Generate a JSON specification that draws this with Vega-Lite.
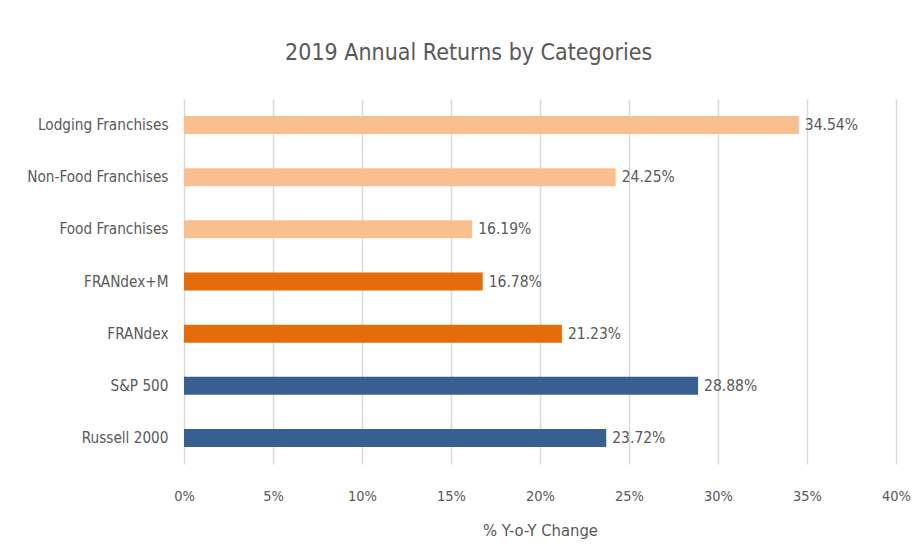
{
  "$schema": "https://vega.github.io/schema/vega-lite/v6.json",
  "width": 712,
  "height": 365,
  "autosize": "none",
  "padding": {"left": 184, "top": 99, "right": 17, "bottom": 83},
  "background": "white",
  "title": {
    "text": "2019 Annual Returns by Categories",
    "font": "DejaVu Sans Condensed, sans-serif",
    "fontSize": 23,
    "fontWeight": "normal",
    "color": "#595959",
    "anchor": "middle",
    "frame": "bounds",
    "offset": 34
  },
  "data": {
    "values": [
      {"category": "Lodging Franchises", "value": 0.3454, "group": "Franchise"},
      {"category": "Non-Food Franchises", "value": 0.2425, "group": "Franchise"},
      {"category": "Food Franchises", "value": 0.1619, "group": "Franchise"},
      {"category": "FRANdex+M", "value": 0.1678, "group": "FRANdex"},
      {"category": "FRANdex", "value": 0.2123, "group": "FRANdex"},
      {"category": "S&P 500", "value": 0.2888, "group": "Index"},
      {"category": "Russell 2000", "value": 0.2372, "group": "Index"}
    ]
  },
  "encoding": {
    "y": {
      "field": "category",
      "type": "nominal",
      "sort": null,
      "scale": {"paddingInner": 0.655, "paddingOuter": 0.3275},
      "axis": {
        "title": null,
        "domain": false,
        "ticks": false,
        "labelPadding": 16,
        "labelFont": "DejaVu Sans Condensed, sans-serif",
        "labelFontSize": 15.2,
        "labelColor": "#595959"
      }
    },
    "x": {
      "field": "value",
      "type": "quantitative",
      "scale": {"domain": [0, 0.4], "nice": false},
      "axis": {
        "title": "% Y-o-Y Change",
        "values": [0, 0.05, 0.1, 0.15, 0.2, 0.25, 0.3, 0.35, 0.4],
        "format": ".0%",
        "domain": false,
        "ticks": false,
        "grid": true,
        "gridColor": "#D9D9D9",
        "gridWidth": 1.5,
        "labelFlush": false,
        "labelPadding": 25,
        "labelFont": "DejaVu Sans Condensed, sans-serif",
        "labelFontSize": 14.5,
        "labelColor": "#595959",
        "titleFont": "DejaVu Sans Condensed, sans-serif",
        "titleFontSize": 16.5,
        "titleFontWeight": "normal",
        "titleColor": "#595959",
        "titlePadding": 20
      }
    }
  },
  "layer": [
    {
      "mark": {"type": "bar"},
      "encoding": {
        "color": {
          "field": "group",
          "type": "nominal",
          "scale": {"domain": ["Franchise", "FRANdex", "Index"], "range": ["#F9BF8F", "#E46C0A", "#366092"]},
          "legend": null
        }
      }
    },
    {
      "mark": {
        "type": "text",
        "align": "left",
        "baseline": "middle",
        "dx": 6,
        "font": "DejaVu Sans Condensed, sans-serif",
        "fontSize": 15.5,
        "color": "#595959"
      },
      "encoding": {
        "text": {"field": "value", "type": "quantitative", "format": ".2%"}
      }
    }
  ],
  "config": {"view": {"stroke": null}}
}
